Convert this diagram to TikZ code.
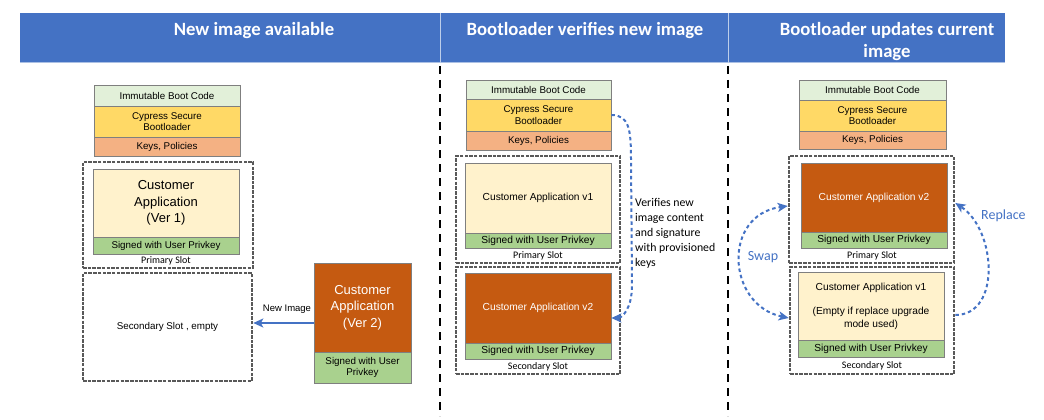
\documentclass[tikz,border=0pt]{standalone}
\usepackage{fontspec}
\setmainfont{Liberation Sans}
\newfontfamily\carl{Carlito}
\usetikzlibrary{arrows.meta}
\definecolor{hdr}{HTML}{4472C4}
\definecolor{immut}{HTML}{E2F0D9}
\definecolor{cyp}{HTML}{FFD966}
\definecolor{keys}{HTML}{F4B183}
\definecolor{appl}{HTML}{FFF2CC}
\definecolor{sig}{HTML}{A9D18E}
\definecolor{appd}{HTML}{C55A11}
\definecolor{bord}{HTML}{7F7F7F}
\definecolor{slotc}{HTML}{595959}
\definecolor{arrc}{HTML}{4472C4}
\begin{document}
\begin{tikzpicture}[x=1pt,y=-1pt,
  hdrtext/.style={text=white, inner sep=0pt, align=center, font=\carl\bfseries\fontsize{18.7}{22}\selectfont},
  layer/.style={draw=bord, line width=0.7pt, inner sep=0pt, align=center, font=\fontsize{9.8}{11.5}\selectfont},
  slotbox/.style={draw=slotc, line width=2.6pt, dash pattern=on 3.5pt off 1.2pt, inner sep=0pt},
  slotlbl/.style={inner sep=0pt, font=\carl\fontsize{10}{12}\selectfont},
  divider/.style={draw=black, line width=2.6pt, dash pattern=on 8pt off 6pt},
  bluearr/.style={draw=arrc, line width=2pt, dash pattern=on 3.5pt off 3pt},
  tipb/.style={-{Stealth[length=10pt,width=9pt,inset=2.5pt]}},
  notes/.style={inner sep=0pt, text=arrc, font=\carl\fontsize{14}{16}\selectfont}
]
\useasboundingbox (0,0) rectangle (1044,420);
% header
\fill[hdr] (20,13) rectangle (1005,63);
\draw[hdr!45!white, line width=1pt] (20,62.5) -- (1005,62.5);
\draw[hdr!35!white, line width=1pt] (440,13) -- (440,63);
\draw[hdr!35!white, line width=1pt] (728,13) -- (728,63);
\node[hdrtext] (t1) at (254,31) {New image available};
\node[hdrtext] (t2) at (585,31) {Bootloader verifies new image};
\node[hdrtext] (t3) at (887,42) {Bootloader updates current\\image};
% dividers
\draw[divider] (440,66) -- (440,416);
\draw[divider] (728,66) -- (728,416);

% ---------- panel 1 ----------
\node[layer, fill=immut, minimum width=146pt, minimum height=21pt] (i1) at (167,95.5) {Immutable Boot Code};
\node[layer, fill=cyp, minimum width=146pt, minimum height=31pt] (c1) at (167,121.5) {Cypress Secure\\Bootloader};
\node[layer, fill=keys, minimum width=146pt, minimum height=19pt] (k1) at (167,146.5) {Keys, Policies};
\node[slotbox, minimum width=170pt, minimum height=106pt] (p1) at (168,215) {};
\node[layer, fill=appl, minimum width=146pt, minimum height=68pt, font=\fontsize{13}{16.5}\selectfont] (a1) at (166,203) {Customer\\Application\\(Ver 1)};
\node[layer, fill=sig, minimum width=146pt, minimum height=17pt] (s1) at (166,245.5) {Signed with User Privkey};
\node[slotlbl] (pl1) at (166,261) {Primary Slot};
\node[slotbox, minimum width=169pt, minimum height=108pt, font=\fontsize{9.8}{12}\selectfont] (q1) at (167.5,327) {Secondary Slot , empty};
\node[layer, fill=appd, text=white, minimum width=97pt, minimum height=89pt, font=\fontsize{13}{16.5}\selectfont] (v2a) at (362.5,307.5) {Customer\\Application\\(Ver 2)};
\node[layer, fill=sig, minimum width=97pt, minimum height=31pt] (s1b) at (362.5,367.5) {Signed with User\\Privkey};
\draw[draw=arrc, line width=1.8pt, tipb] ([yshift=-15.5pt]v2a.west) -- ([yshift=-15.5pt]v2a.west -| q1.east) coordinate (e1);
\node[inner sep=0pt, font=\fontsize{9.5}{11}\selectfont] (ni) at (287,309) {New Image};

% ---------- panel 2 ----------
\node[layer, fill=immut, minimum width=145pt, minimum height=19pt] (i2) at (538.5,89.5) {Immutable Boot Code};
\node[layer, fill=cyp, minimum width=145pt, minimum height=32pt] (c2) at (538.5,115) {Cypress Secure\\Bootloader};
\node[layer, fill=keys, minimum width=145pt, minimum height=19pt] (k2) at (538.5,140.5) {Keys, Policies};
\node[slotbox, minimum width=164pt, minimum height=107pt] (p2) at (538,209.5) {};
\node[layer, fill=appl, minimum width=146pt, minimum height=70pt, font=\fontsize{10.2}{12}\selectfont] (a2) at (538,198) {Customer Application v1};
\node[layer, fill=sig, minimum width=146pt, minimum height=15pt, font=\fontsize{10.2}{12}\selectfont] (s2) at (538,240.5) {Signed with User Privkey};
\node[slotlbl] (pl2) at (538,255.5) {Primary Slot};
\node[slotbox, minimum width=164pt, minimum height=107pt] (q2) at (538,320.5) {};
\node[layer, fill=appd, text=white, minimum width=146pt, minimum height=70pt, font=\fontsize{10.2}{12}\selectfont] (v2b) at (538,308) {Customer Application v2};
\node[layer, fill=sig, minimum width=146pt, minimum height=16pt, font=\fontsize{10.2}{12}\selectfont] (s2b) at (538,351) {Signed with User Privkey};
\node[slotlbl] (ql2) at (538,367) {Secondary Slot};
\draw[bluearr, tipb] (c2.east) .. controls +(18,0) and +(0,-30) .. (631,160) -- (632,285) .. controls +(0,25) and +(10,0) .. ([yshift=-10pt]v2b.east);
\node[inner sep=0pt, anchor=west, align=left, font=\carl\fontsize{11.8}{15}\selectfont] (vt) at (635,233) {Verifies new\\image content\\and signature\\with provisioned\\keys};

% ---------- panel 3 ----------
\node[layer, fill=immut, minimum width=147pt, minimum height=20pt] (i3) at (872.5,90) {Immutable Boot Code};
\node[layer, fill=cyp, minimum width=147pt, minimum height=31pt] (c3) at (872.5,115.5) {Cypress Secure\\Bootloader};
\node[layer, fill=keys, minimum width=147pt, minimum height=18pt] (k3) at (872.5,140) {Keys, Policies};
\node[slotbox, minimum width=165pt, minimum height=107pt] (p3) at (871.5,209.5) {};
\node[layer, fill=appd, text=white, minimum width=146pt, minimum height=69pt, font=\fontsize{10.2}{12}\selectfont] (v2c) at (874,197.5) {Customer Application v2};
\node[layer, fill=sig, minimum width=146pt, minimum height=16pt, font=\fontsize{10.2}{12}\selectfont] (s3) at (874,240) {Signed with User Privkey};
\node[slotlbl] (pl3) at (872,255.5) {Primary Slot};
\node[slotbox, minimum width=164pt, minimum height=107pt] (q3) at (872,320.5) {};
\node[layer, fill=appl, minimum width=146pt, minimum height=68pt, font=\fontsize{10.2}{12.3}\selectfont] (a3) at (871,306) {Customer Application v1\\[12.3pt](Empty if replace upgrade\\mode used)};
\node[layer, fill=sig, minimum width=146pt, minimum height=17pt, font=\fontsize{10.2}{12}\selectfont] (s3b) at (871,348.5) {Signed with User Privkey};
\node[slotlbl] (ql3) at (872,366) {Secondary Slot};
\draw[bluearr, {Stealth[length=10pt,width=9pt,inset=2.5pt]}-{Stealth[length=10pt,width=9pt,inset=2.5pt]}] ([yshift=2.5pt]q3.west) .. controls +(-62,-13) and +(-66,9) .. ([yshift=3.5pt]p3.west);
\node[notes] (sw) at (763,257) {Swap};
\draw[bluearr, tipb] ([yshift=5.5pt]q3.east) .. controls +(46,0) and +(41,27) .. ([yshift=6.5pt]p3.east);
\node[notes, anchor=west] (rp) at (981,216) {Replace};
\end{tikzpicture}
\end{document}
